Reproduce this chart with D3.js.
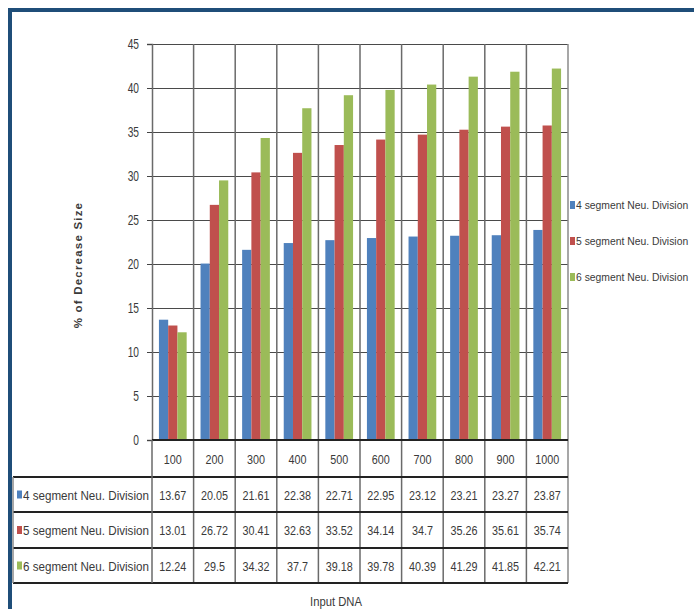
<!DOCTYPE html>
<html>
<head>
<meta charset="utf-8">
<script src="https://cdn.jsdelivr.net/npm/d3@7/dist/d3.min.js"></script>
<style>
  html, body { margin: 0; padding: 0; background: #fff; }
  svg { display: block; }
  text { font-family: "Liberation Sans", Arial, sans-serif; fill: #3a3a3a; }
</style>
</head>
<body>
<script>
const categories = ["100", "200", "300", "400", "500", "600", "700", "800", "900", "1000"];
const seriesNames = ["4 segment Neu. Division", "5 segment Neu. Division", "6 segment Neu. Division"];
const seg4 = [13.67, 20.05, 21.61, 22.38, 22.71, 22.95, 23.12, 23.21, 23.27, 23.87];
const seg5 = [13.01, 26.72, 30.41, 32.63, 33.52, 34.14, 34.7, 35.26, 35.61, 35.74];
const seg6 = [12.24, 29.5, 34.32, 37.7, 39.18, 39.78, 40.39, 41.29, 41.85, 42.21];
const yTicks = [0, 5, 10, 15, 20, 25, 30, 35, 40, 45];
const colors = ["#4F81BD", "#C0504D", "#9BBB59"];
const seriesValues = [seg4, seg5, seg6];

const W = 694, H = 609;
const L = 152, R = 568, T = 44, B = 440;
const tableLeft = 13;
const rowY = [440, 477, 512, 548, 583];

const svg = d3.select("body").append("svg").attr("width", W).attr("height", H);

// condensed text helper
function ctext(g, px, py, str, size, sx, anchor) {
  return g.append("text")
    .attr("transform", `translate(${px},${py}) scale(${sx},1)`)
    .attr("text-anchor", anchor || "start")
    .attr("font-size", size)
    .text(str);
}

// frame
svg.append("rect").attr("x", 10).attr("y", 10).attr("width", W + 20).attr("height", H + 20)
  .attr("fill", "none").attr("stroke", "#1F4E79").attr("stroke-width", 4);

const x = d3.scaleBand().domain(categories).range([L, R]).padding(0);
const xs = d3.scaleBand().domain(d3.range(seriesNames.length)).range([0, x.bandwidth()]).paddingInner(0).paddingOuter(0.75);
const y = d3.scaleLinear().domain([0, 45]).range([B, T]);

// horizontal gridlines
svg.append("g").attr("transform", `translate(${L},0)`)
  .call(d3.axisLeft(y).tickValues(yTicks.filter(v => v > 0)).tickSize(-(R - L)).tickFormat(""))
  .call(g => g.select(".domain").remove())
  .call(g => g.selectAll("line").attr("stroke", "#4a4a4a").attr("stroke-width", 1.2));

// vertical category lines in plot
svg.append("g").selectAll("line").data(categories.slice(1)).join("line")
  .attr("x1", d => x(d)).attr("x2", d => x(d)).attr("y1", T).attr("y2", rowY[4])
  .attr("stroke", "#6a6a6a").attr("stroke-width", 1.5);
// plot right border
svg.append("line").attr("x1", R).attr("x2", R).attr("y1", T).attr("y2", rowY[4])
  .attr("stroke", "#8a8a8a").attr("stroke-width", 1.5);

// bars
seriesValues.forEach((vals, si) => {
  svg.append("g").selectAll("rect").data(vals).join("rect")
    .attr("x", (d, i) => x(categories[i]) + xs(si))
    .attr("width", xs.bandwidth())
    .attr("y", d => y(d))
    .attr("height", d => B - y(d))
    .attr("fill", colors[si]);
});

// y axis (ticks + line); labels drawn condensed
svg.append("g").attr("transform", `translate(${L},0)`)
  .call(d3.axisLeft(y).tickValues(yTicks).tickSize(5).tickFormat(""))
  .call(g => g.select(".domain").attr("stroke", "#6a6a6a").attr("stroke-width", 1.5))
  .call(g => g.selectAll(".tick line").attr("stroke", "#444"));
const yl = svg.append("g");
yTicks.forEach(v => ctext(yl, L - 13, y(v) + 5, String(v), 15, 0.68, "end").attr("fill", "#444"));

// table lines
const tg = svg.append("g");
tg.append("line").attr("x1", L).attr("x2", R).attr("y1", rowY[0]).attr("y2", rowY[0]).attr("stroke", "#222").attr("stroke-width", 2);
rowY.slice(1).forEach(ry => {
  tg.append("line").attr("x1", tableLeft).attr("x2", R).attr("y1", ry).attr("y2", ry).attr("stroke", "#222").attr("stroke-width", 2);
});
tg.append("line").attr("x1", tableLeft).attr("x2", tableLeft).attr("y1", rowY[1]).attr("y2", rowY[4]).attr("stroke", "#8a8a8a").attr("stroke-width", 1.5);
tg.append("line").attr("x1", L).attr("x2", L).attr("y1", rowY[0]).attr("y2", rowY[4]).attr("stroke", "#6a6a6a").attr("stroke-width", 1.5);

// header labels
categories.forEach(c => ctext(tg, x(c) + x.bandwidth() / 2, (rowY[0] + rowY[1]) / 2 + 5, c, 13.5, 0.8, "middle"));

// rows
seriesValues.forEach((vals, si) => {
  const cy = (rowY[si + 1] + rowY[si + 2]) / 2 + 5;
  tg.append("rect").attr("x", tableLeft + 4).attr("y", cy - 9).attr("width", 5).attr("height", 8).attr("fill", colors[si]);
  ctext(tg, tableLeft + 10, cy, seriesNames[si], 12.5, 0.93, "start");
  vals.forEach((v, i) => ctext(tg, x(categories[i]) + x.bandwidth() / 2, cy, String(v), 13.5, 0.8, "middle"));
});

// right legend
const legY = [205, 241, 277];
seriesNames.forEach((n, i) => {
  svg.append("rect").attr("x", 570).attr("y", legY[i] - 4).attr("width", 5).attr("height", 8).attr("fill", colors[i]);
  ctext(svg, 576, legY[i] + 4, n, 11.5, 0.9, "start").attr("fill", "#555");
});

// axis titles
svg.append("text").attr("transform", "translate(82,265) rotate(-90)").attr("text-anchor", "middle")
  .attr("font-size", 11.5).attr("font-weight", "bold").attr("letter-spacing", 1.2)
  .attr("fill", "#333").text("% of Decrease Size");
ctext(svg, 336, 606, "Input DNA", 12.5, 0.9, "middle");
</script>
</body>
</html>
